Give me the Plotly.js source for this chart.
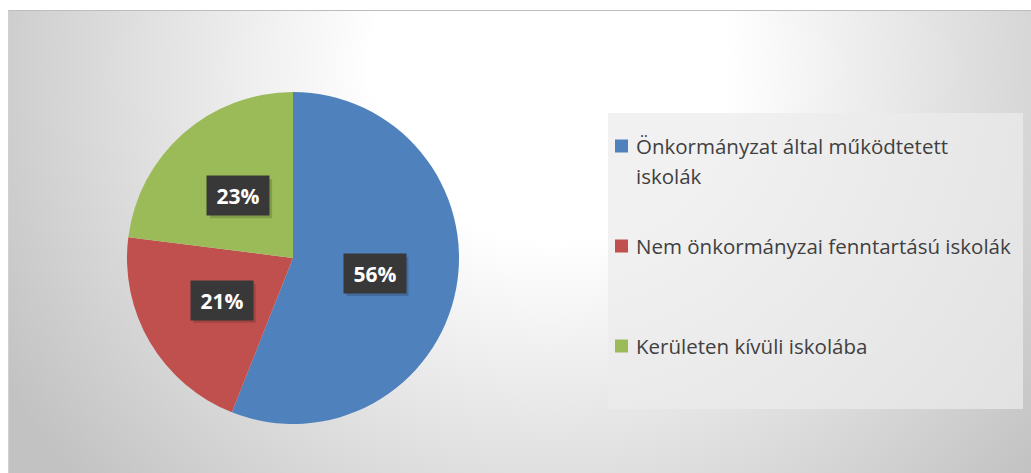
<!DOCTYPE html>
<html>
<head>
<meta charset="utf-8">
<script src="https://cdn.plot.ly/plotly-3.0.1.min.js"></script>
<style>
  html, body { margin: 0; padding: 0; background: #ffffff; }
  #wrap { position: relative; width: 1031px; height: 473px; overflow: hidden; background: #ffffff; }
  #bg { position: absolute; left: 8px; top: 10px; width: 1023px; height: 463px;
        background: radial-gradient(ellipse 62% 135% at 53% 12%, #ffffff 0%, #ffffff 28%, #c2c2c2 100%);
        border-top: 1px solid #bdbdbd; border-left: 1px solid #d0d0d0; box-sizing: border-box; }
  #chart { position: absolute; left: 0; top: 0; width: 1031px; height: 473px; }
</style>
</head>
<body>
<div id="wrap"><div id="bg"></div><div id="chart"></div></div>
<script>
// ---- data ----
const labels = ["Önkormányzat által működtetett iskolák", "Nem önkormányzai fenntartású iskolák", "Kerületen kívüli iskolába"];
const values = [56, 21, 23];
const colors = ["#4f81bd", "#c0504d", "#9bbb59"];

// ---- layout geometry (pixels) ----
const W = 1031, H = 473;
const pieBox = { left: 127, right: 459, top: 92, bottom: 424 };
const cx = (pieBox.left + pieBox.right) / 2, cy = (pieBox.top + pieBox.bottom) / 2;
const R = Math.min(pieBox.right - pieBox.left, pieBox.bottom - pieBox.top) / 2;
const px = x => x / W, py = y => 1 - y / H;

const total = values.reduce((a, b) => a + b, 0);

const annotations = [];
const shapes = [];

// percent labels in dark boxes, placed at half radius along the slice middle angle
const boxW = 62, boxH = 39;
let cum = 0;
values.forEach((v, i) => {
  const mid = (cum + v / 2) / total * 2 * Math.PI;
  cum += v;
  const lx = cx + 0.5 * R * Math.sin(mid);
  const ly = cy - 0.5 * R * Math.cos(mid);
  const txt = Math.round(v / total * 100) + "%";
  // soft shadow
  shapes.push({ type: "rect", xref: "paper", yref: "paper",
    x0: px(lx - boxW / 2 + 3), x1: px(lx + boxW / 2 + 3), y0: py(ly + boxH / 2 + 3), y1: py(ly - boxH / 2 + 3),
    fillcolor: "rgba(0,0,0,0.16)", line: { width: 0 }, layer: "above" });
  annotations.push({ xref: "paper", yref: "paper", x: px(lx), y: py(ly), xanchor: "center", yanchor: "middle",
    text: "<b>" + txt + "</b>",
    showarrow: false, width: boxW - 16, height: boxH - 16, borderpad: 8, bgcolor: "#383838",
    font: { family: "Open Sans", size: 21, color: "#ffffff" } });
});

// custom legend
const leg = { left: 608, right: 1023, top: 113, bottom: 409, sqX: 615, sq: 13, textX: 634, firstY: 146, gap: 100, lineH: 30 };
shapes.push({ type: "rect", xref: "paper", yref: "paper", x0: px(leg.left), x1: px(leg.right), y0: py(leg.bottom), y1: py(leg.top),
  fillcolor: "rgba(236,236,236,0.72)", line: { width: 0 }, layer: "below" });

function wrap(s, max) {
  const words = s.split(" "); const lines = []; let cur = "";
  words.forEach(w => { const t = cur ? cur + " " + w : w; if (t.length > max && cur) { lines.push(cur); cur = w; } else cur = t; });
  if (cur) lines.push(cur); return lines;
}

labels.forEach((lab, i) => {
  const yc = leg.firstY + i * leg.gap;
  shapes.push({ type: "rect", xref: "paper", yref: "paper", x0: px(leg.sqX), x1: px(leg.sqX + leg.sq),
    y0: py(yc + leg.sq / 2), y1: py(yc - leg.sq / 2), fillcolor: colors[i], line: { width: 0 } });
  wrap(lab, 36).forEach((ln, j) => {
    annotations.push({ xref: "paper", yref: "paper", x: px(leg.textX), y: py(yc + j * leg.lineH), xanchor: "left", yanchor: "middle",
      text: ln, showarrow: false, font: { family: "Open Sans", size: 20.5, color: "#404040" } });
  });
});

const data = [{
  type: "pie", labels: labels, values: values, sort: false, direction: "clockwise", rotation: 0,
  marker: { colors: colors, line: { width: 0 } }, textinfo: "none", hoverinfo: "label+percent",
  domain: { x: [px(pieBox.left), px(pieBox.right)], y: [py(pieBox.bottom), py(pieBox.top)] },
  showlegend: false
}];

const layout = {
  width: W, height: H, margin: { l: 0, r: 0, t: 0, b: 0 },
  paper_bgcolor: "rgba(0,0,0,0)", plot_bgcolor: "rgba(0,0,0,0)",
  showlegend: false, annotations: annotations, shapes: shapes
};

Plotly.newPlot("chart", data, layout, { displayModeBar: false, staticPlot: true });
</script>
</body>
</html>
